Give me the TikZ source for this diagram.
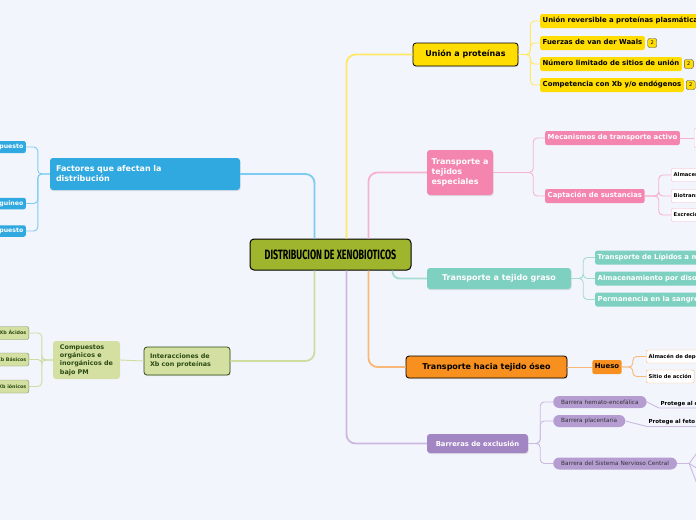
\documentclass[tikz,border=0pt]{standalone}
\usepackage{fontspec}
\setmainfont{DejaVu Sans}
\newfontfamily\titlefont[FakeStretch=0.66]{Fira Sans}
\usetikzlibrary{positioning,shadows}

\definecolor{bgcol}{HTML}{F3F5FD}
\definecolor{rootgreen}{HTML}{9FB52E}
\definecolor{ucol}{HTML}{FFDD00}
\definecolor{ulink}{HTML}{FFE866}
\definecolor{pcol}{HTML}{F385AE}
\definecolor{plink}{HTML}{F6B3CD}
\definecolor{tcol}{HTML}{7ED0C1}
\definecolor{tlink}{HTML}{A6DDD3}
\definecolor{ocol}{HTML}{F7901E}
\definecolor{olink}{HTML}{F9B877}
\definecolor{vcol}{HTML}{A286C4}
\definecolor{vpill}{HTML}{B59DD2}
\definecolor{vlink}{HTML}{CBB9E0}
\definecolor{bcol}{HTML}{30A8E0}
\definecolor{blink}{HTML}{7CCBF0}
\definecolor{gcol}{HTML}{D4E0A2}
\definecolor{gdark}{HTML}{2C4A14}
\definecolor{glink}{HTML}{CFDCA0}

\begin{document}
\begin{tikzpicture}[x=1pt, y=-1pt,
  root/.style={draw=black, line width=1pt, rounded corners=4pt, fill=rootgreen, minimum width=161pt, minimum height=31pt, font=\titlefont\bfseries\fontsize{13.5}{15}\selectfont},
  branch/.style={rounded corners=3pt, inner sep=3pt, align=left, font=\bfseries\fontsize{8}{10}\selectfont, drop shadow={opacity=0.2, shadow xshift=0.6pt, shadow yshift=-1.2pt}},
  leaf/.style={rounded corners=2pt, inner sep=2.5pt, minimum height=14pt, text height=5pt, text depth=1.5pt, font=\bfseries\fontsize{6.9}{8}\selectfont},
  small/.style={draw, fill=white, rounded corners=2pt, inner sep=2.5pt, minimum height=13pt, text height=4.5pt, text depth=1.2pt, font=\bfseries\fontsize{5.2}{6}\selectfont},
  pill/.style={fill=vpill, rounded corners=6pt, inner xsep=8pt, inner ysep=2pt, minimum height=12pt, text=black!80, font=\fontsize{5.8}{6.5}\selectfont},
  prot/.style={inner sep=1.5pt, font=\bfseries\fontsize{5.5}{6.5}\selectfont},
  badge/.style={draw=black!70, fill=ucol, rounded corners=2pt, inner sep=0pt, minimum size=9pt, font=\fontsize{5}{6}\selectfont},
  mainlink/.style={line width=1.8pt, rounded corners=9pt},
  sublink/.style={line width=0.9pt, rounded corners=4pt}
]
\fill[bgcol] (0,0) rectangle (696,520);
\useasboundingbox (0,0) rectangle (696,520);

\node[root] (central) at (330.5,254.5) {DISTRIBUCION DE XENOBIOTICOS};

% right side
\node[branch, draw=black, line width=0.8pt, fill=ucol, minimum width=105pt, minimum height=23pt] (union) at (465.5,54.5) {Unión a proteínas};
\node[leaf, fill=ucol, anchor=west] (u1) at (540,21) {Unión reversible a proteínas plasmáticas};
\node[leaf, fill=ucol, anchor=west] (u2) at (540,43) {Fuerzas de van der Waals};
\node[leaf, fill=ucol, anchor=west] (u3) at (540,64) {Número limitado de sitios de unión};
\node[leaf, fill=ucol, anchor=west] (u4) at (540,85) {Competencia con Xb y/o endógenos};
\node[badge, right=2.5pt of u2] (b2) {2};
\node[badge, right=2pt of u3] (b3) {2};
\node[badge, right=2pt of u4] (b4) {2};

\node[branch, fill=pcol, text=white, minimum width=66pt, minimum height=45pt] (esp) at (460,172.5) {Transporte a\\tejidos\\especiales};
\node[leaf, fill=pcol, text=white, anchor=west] (m1) at (545,138) {Mecanismos de transporte activo};
\node[draw=plink, fill=white, rounded corners=2pt, minimum width=20pt, minimum height=20pt, anchor=west] (m2) at (694,138) {};
\node[leaf, fill=pcol, text=white, anchor=west] (c1) at (545,196) {Captación de sustancias};
\node[small, draw=plink, anchor=west] (c2) at (671,175) {Almacenamiento};
\node[small, draw=plink, anchor=west] (c3) at (671,196) {Biotransformación};
\node[small, draw=plink, anchor=west] (c4) at (671,215) {Excreción};

\node[branch, fill=tcol, text=white, minimum width=144pt, minimum height=21pt] (graso) at (499,278.5) {Transporte a tejido graso};
\node[leaf, fill=tcol, text=white, anchor=west] (g1) at (595,257.5) {Transporte de Lípidos a membranas};
\node[leaf, fill=tcol, text=white, anchor=west] (g2) at (595,278.5) {Almacenamiento por disolución};
\node[leaf, fill=tcol, text=white, anchor=west] (g3) at (595,299.5) {Permanencia en la sangre};

\node[branch, draw=black, line width=0.8pt, fill=ocol, minimum width=161pt, minimum height=22pt] (oseo) at (486.5,367) {Transporte hacia tejido óseo};
\node[leaf, fill=ocol] (hueso) at (607,367) {Hueso};
\node[small, draw=olink, anchor=west] (h1) at (646,356.5) {Almacén de depósito};
\node[small, draw=olink, anchor=west] (h2) at (646,376.5) {Sitio de acción};

\node[branch, fill=vcol, text=white, minimum width=101pt, minimum height=19pt, font=\bfseries\fontsize{6.8}{8}\selectfont] (barr) at (477.5,443.5) {Barreras de exclusión};
\node[pill, anchor=west] (p1) at (553,402) {Barrera hemato-encefálica};
\node[pill, anchor=west] (p2) at (553,421) {Barrera placentaria};
\node[pill, anchor=west] (p3) at (553,463.5) {Barrera del Sistema Nervioso Central};
\node[prot, anchor=south west] (pr1) at (659,408) {Protege al cerebro};
\node[prot, anchor=south west] (pr2) at (647,426.5) {Protege al feto};
\coordinate (s1) at (708,438);
\coordinate (s2) at (708,475);
\coordinate (s3) at (708,512);

% left side
\node[branch, fill=bcol, text=white, minimum width=190pt, minimum height=32pt, text width=178pt] (fact) at (145,174) {Factores que afectan la\\distribución};
\node[leaf, fill=bcol, text=white, anchor=east, font=\bfseries\fontsize{6.2}{7}\selectfont, minimum height=12pt] (f1) at (26,147) {Naturaleza del compuesto};
\node[leaf, fill=bcol, text=white, anchor=east, font=\bfseries\fontsize{6.2}{7}\selectfont, minimum height=11pt] (f2) at (26,203.5) {Flujo sanguineo};
\node[leaf, fill=bcol, text=white, anchor=east, font=\bfseries\fontsize{6.2}{7}\selectfont, minimum height=11pt] (f3) at (26,231) {Liposolubilidad del compuesto};

\node[branch, draw=gdark, line width=0.8pt, fill=gcol, text=gdark, minimum width=86pt, minimum height=28pt, text width=74pt, font=\bfseries\fontsize{6.4}{8}\selectfont] (inter) at (187,361) {Interacciones de\\Xb con proteínas};
\node[fill=gcol, text=gdark, rounded corners=3pt, align=left, inner sep=3pt, minimum width=67pt, minimum height=38pt, font=\bfseries\fontsize{6.4}{8.3}\selectfont] (comp) at (86.5,360) {Compuestos\\orgánicos e\\inorgánicos de\\bajo PM};
\node[small, fill=gcol, draw=gdark!60, anchor=east, text=gdark, font=\bfseries\fontsize{4.8}{6}\selectfont] (k1) at (29,333) {Xb Ácidos};
\node[small, fill=gcol, draw=gdark!60, anchor=east, text=gdark, font=\bfseries\fontsize{4.8}{6}\selectfont] (k2) at (29,359.5) {Xb Básicos};
\node[small, fill=gcol, draw=gdark!60, anchor=east, text=gdark, font=\bfseries\fontsize{4.8}{6}\selectfont] (k3) at (29,386.5) {Xb iónicos};

% main links
\draw[mainlink, blink] ([xshift=-16pt]central.north) |- (fact.east);
\draw[mainlink, glink] ([xshift=-16pt]central.south) |- (inter.east);
\draw[mainlink, ulink] ([xshift=16pt]central.north) |- (union.west);
\draw[mainlink, plink] ([xshift=38pt]central.north) |- (esp.west);
\draw[mainlink, tlink, rounded corners=7pt] ([xshift=62pt]central.south) |- (graso.west);
\draw[mainlink, olink] ([xshift=38pt]central.south) |- (oseo.west);
\draw[mainlink, vlink] ([xshift=16pt]central.south) |- (barr.west);

% sub links
\foreach \n in {u1,u2,u3,u4} \draw[sublink, ulink] (union.east) -- ++(12,0) |- (\n.west);
\foreach \n in {m1,c1} \draw[sublink, plink] (esp.east) -- ++(40,0) |- (\n.west);
\draw[sublink, plink] (m1.east) -- (m2.west);
\foreach \n in {c2,c3,c4} \draw[sublink, plink] (c1.east) -- ++(14,0) |- (\n.west);
\foreach \n in {g1,g2,g3} \draw[sublink, tlink] (graso.east) -- ++(12,0) |- (\n.west);
\draw[sublink, olink] (oseo.east) -- (hueso.west);
\foreach \n in {h1,h2} \draw[sublink, olink] (hueso.east) -- ++(11,0) |- (\n.west);
\foreach \n in {p1,p2,p3} \draw[sublink, vlink] (barr.east) -- ++(12,0) |- (\n.west);
\draw[sublink, vlink, rounded corners=0pt] (p1.east) -- (pr1.south west) -- (pr1.south east);
\draw[sublink, vlink, rounded corners=0pt] (p2.east) -- (pr2.south west) -- (pr2.south east);
\foreach \n in {s1,s2,s3} \draw[sublink, vlink, rounded corners=0pt] (p3.east) -- ++(12,0) -- (\n);
\foreach \n in {f1,f2,f3} \draw[sublink, blink] (fact.west) -- ++(-12,0) |- (\n.east);
\draw[sublink, glink] (inter.west) -- (comp.east);
\foreach \n in {k1,k2,k3} \draw[sublink, glink] (comp.west) -- ++(-11,0) |- (\n.east);
\end{tikzpicture}
\end{document}
